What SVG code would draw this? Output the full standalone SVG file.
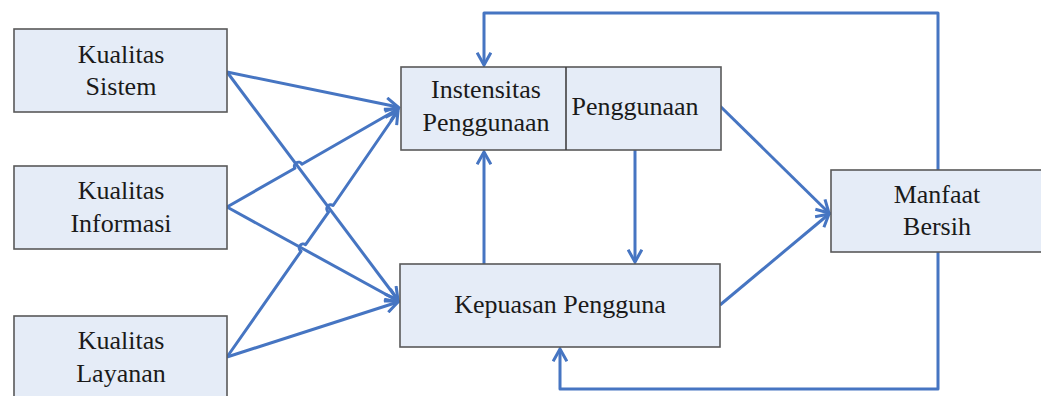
<svg xmlns="http://www.w3.org/2000/svg" width="1041" height="396" viewBox="0 0 1041 396">
<style>
.box{fill:#e5ecf7;stroke:#595959;stroke-width:1.6}
.t{font-family:"Liberation Serif","Times New Roman",serif;font-size:26px;fill:#1a1a1a;text-anchor:middle}
.c{fill:none;stroke:#4675c2;stroke-width:3;stroke-linejoin:round}
</style>
<defs>
<marker id="ah" viewBox="0 0 12 12" refX="10" refY="6" markerWidth="5.5" markerHeight="5.5" markerUnits="strokeWidth" orient="auto">
<path d="M1,1 L10,6 L1,11" fill="none" stroke="#4675c2" stroke-width="2.2" stroke-linejoin="miter"/>
</marker>
</defs>
<rect width="1041" height="396" fill="#fff"/>
<g id="connectors">
<path class="c" d="M938,170 V13 H484 V65" marker-end="url(#ah)"/>
<path class="c" d="M938,252 V389 H560 V349" marker-end="url(#ah)"/>
<path class="c" d="M227,72 L398,107" marker-end="url(#ah)"/>
<path class="c" d="M227,72 L398,300" marker-end="url(#ah)"/>
<path class="c" d="M227,207 L294.9,168.2 A4,4 0 0 1 301.9,164.2 L398,109" marker-end="url(#ah)"/>
<path class="c" d="M227,207 L398,301" marker-end="url(#ah)"/>
<path class="c" d="M227,357 L301,251.3 A4,4 0 0 1 305.6,244.7 L328.5,212.1 A4,4 0 0 1 333.1,205.5 L398,111" marker-end="url(#ah)"/>
<path class="c" d="M227,357 L398,302" marker-end="url(#ah)"/>
<path class="c" d="M484,264 V152" marker-end="url(#ah)"/>
<path class="c" d="M635,150 V262" marker-end="url(#ah)"/>
<path class="c" d="M720,106 L829,213" marker-end="url(#ah)"/>
<path class="c" d="M720,305 L829,214" marker-end="url(#ah)"/>
</g>
<g id="kualitas-sistem">
<rect class="box" x="14" y="29" width="213" height="83"/>
<text class="t" x="121" y="63">Kualitas</text>
<text class="t" x="121" y="95">Sistem</text>
</g>
<g id="kualitas-informasi">
<rect class="box" x="14" y="166" width="213" height="83"/>
<text class="t" x="121" y="199">Kualitas</text>
<text class="t" x="121" y="232">Informasi</text>
</g>
<g id="kualitas-layanan">
<rect class="box" x="14" y="316" width="213" height="84"/>
<text class="t" x="121" y="349">Kualitas</text>
<text class="t" x="121" y="382">Layanan</text>
</g>
<g id="penggunaan">
<rect class="box" x="401" y="67" width="320" height="83"/>
<line x1="566" y1="67" x2="566" y2="150" stroke="#404040" stroke-width="1.6"/>
<text class="t" x="486" y="98">Instensitas</text>
<text class="t" x="486" y="131">Penggunaan</text>
<text class="t" x="635" y="115">Penggunaan</text>
</g>
<g id="kepuasan-pengguna">
<rect class="box" x="400" y="264" width="320" height="83"/>
<text class="t" x="560" y="313">Kepuasan Pengguna</text>
</g>
<g id="manfaat-bersih">
<rect class="box" x="831" y="170" width="212" height="82"/>
<text class="t" x="937" y="203">Manfaat</text>
<text class="t" x="937" y="235">Bersih</text>
</g>
</svg>
